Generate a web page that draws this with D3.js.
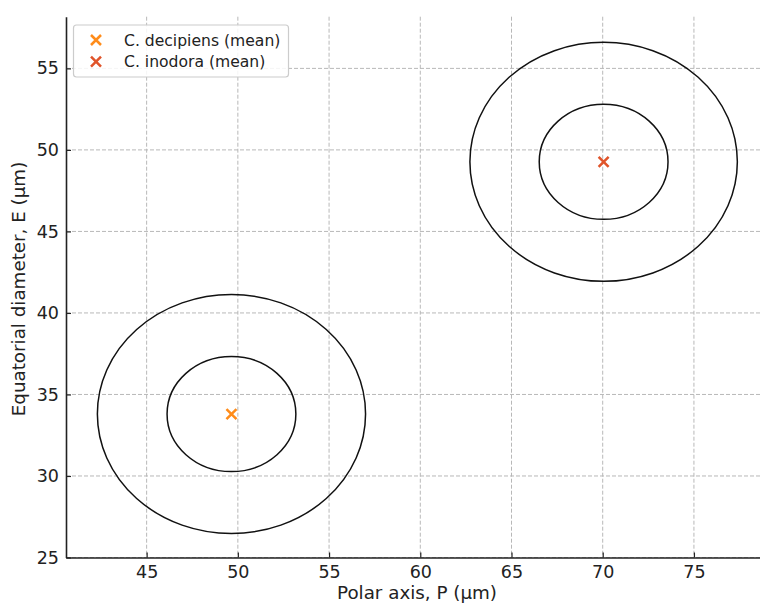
<!DOCTYPE html>
<html>
<head>
<meta charset="utf-8">
<script src="https://cdn.jsdelivr.net/npm/d3@7"></script>
<style>
  body { margin: 0; background: #fff; }
  svg { display: block; font-family: "DejaVu Sans", sans-serif; }
</style>
</head>
<body>
<svg id="chart" width="760" height="604"></svg>
<script>
// Data
const species = ["C. decipiens (mean)", "C. inodora (mean)"];
const colors = ["#ff8c1a", "#e0542a"];
const meanP = [49.65, 70.05];
const meanE = [33.8, 49.27];
// ellipse half-axes (inner / outer), in data units
const innerP = [3.53, 3.53];
const innerE = [3.53, 3.53];
const outerP = [7.35, 7.33];
const outerE = [7.33, 7.33];
const xTicks = [45, 50, 55, 60, 65, 70, 75];
const yTicks = [25, 30, 35, 40, 45, 50, 55];

const svg = d3.select("#chart");
const plotLeft = 66, plotRight = 768, plotTop = 16.7, plotBottom = 557.5;

const x = d3.scaleLinear().domain([40.58, 79.06]).range([plotLeft, plotRight]);
const y = d3.scaleLinear().domain([25, 58.17]).range([plotBottom, plotTop]);

// grid
const grid = svg.append("g")
    .attr("stroke", "#b8b8b8")
    .attr("stroke-width", 1)
    .attr("stroke-dasharray", "4,2");
grid.selectAll("line.vx")
    .data(xTicks)
    .enter()
    .append("line")
    .attr("x1", d => x(d)).attr("x2", d => x(d))
    .attr("y1", plotTop).attr("y2", plotBottom);
grid.selectAll("line.hy")
    .data(yTicks)
    .enter()
    .append("line")
    .attr("x1", plotLeft).attr("x2", plotRight)
    .attr("y1", d => y(d)).attr("y2", d => y(d));

// axes (ticks inward)
const xAxis = svg.append("g")
    .attr("transform", `translate(0,${plotBottom})`)
    .call(d3.axisBottom(x).tickValues(xTicks).tickSize(-5).tickPadding(8).tickSizeOuter(0));
const yAxis = svg.append("g")
    .attr("transform", `translate(${plotLeft},0)`)
    .call(d3.axisLeft(y).tickValues(yTicks).tickSize(-5).tickPadding(7).tickSizeOuter(0));

[xAxis, yAxis].forEach(a => {
    a.select(".domain").attr("stroke", "#222").attr("stroke-width", 1.6);
    a.selectAll(".tick line").attr("stroke", "#222").attr("stroke-width", 1.2);
    a.selectAll(".tick text")
        .attr("fill", "#222")
        .style("font-size", "17.5px")
        .style("font-family", "DejaVu Sans, sans-serif");
});

// axis labels
svg.append("text")
    .attr("x", 417)
    .attr("y", 599)
    .attr("text-anchor", "middle")
    .attr("fill", "#222")
    .style("font-size", "18.3px")
    .text("Polar axis, P (µm)");
svg.append("text")
    .attr("transform", "translate(25,289) rotate(-90)")
    .attr("text-anchor", "middle")
    .attr("fill", "#222")
    .style("font-size", "18.3px")
    .text("Equatorial diameter, E (µm)");

// ellipses
const ell = svg.append("g").attr("fill", "none").attr("stroke", "#111").attr("stroke-width", 1.5);
species.forEach((s, i) => {
    [[innerP[i], innerE[i]], [outerP[i], outerE[i]]].forEach(r => {
        ell.append("ellipse")
            .attr("cx", x(meanP[i]))
            .attr("cy", y(meanE[i]))
            .attr("rx", x(meanP[i] + r[0]) - x(meanP[i]))
            .attr("ry", y(meanE[i]) - y(meanE[i] + r[1]));
    });
});

// x markers
function cross(g, cx, cy, col) {
    const h = 5;
    g.append("path")
        .attr("d", `M${cx - h},${cy - h}L${cx + h},${cy + h}M${cx - h},${cy + h}L${cx + h},${cy - h}`)
        .attr("stroke", col)
        .attr("stroke-width", 2.5)
        .attr("fill", "none");
}
const marks = svg.append("g");
species.forEach((s, i) => cross(marks, x(meanP[i]), y(meanE[i]), colors[i]));

// legend
const legend = svg.append("g");
legend.append("rect")
    .attr("x", 73.5).attr("y", 25)
    .attr("width", 215).attr("height", 52)
    .attr("rx", 3)
    .attr("fill", "rgba(255,255,255,0.85)")
    .attr("stroke", "#cccccc")
    .attr("stroke-width", 1.2);
species.forEach((s, i) => {
    const cy = 40 + i * 21.7;
    cross(legend, 96, cy, colors[i]);
    legend.append("text")
        .attr("x", 124)
        .attr("y", cy + 5.5)
        .attr("fill", "#222")
        .style("font-size", "15.6px")
        .text(s);
});
</script>
</body>
</html>
